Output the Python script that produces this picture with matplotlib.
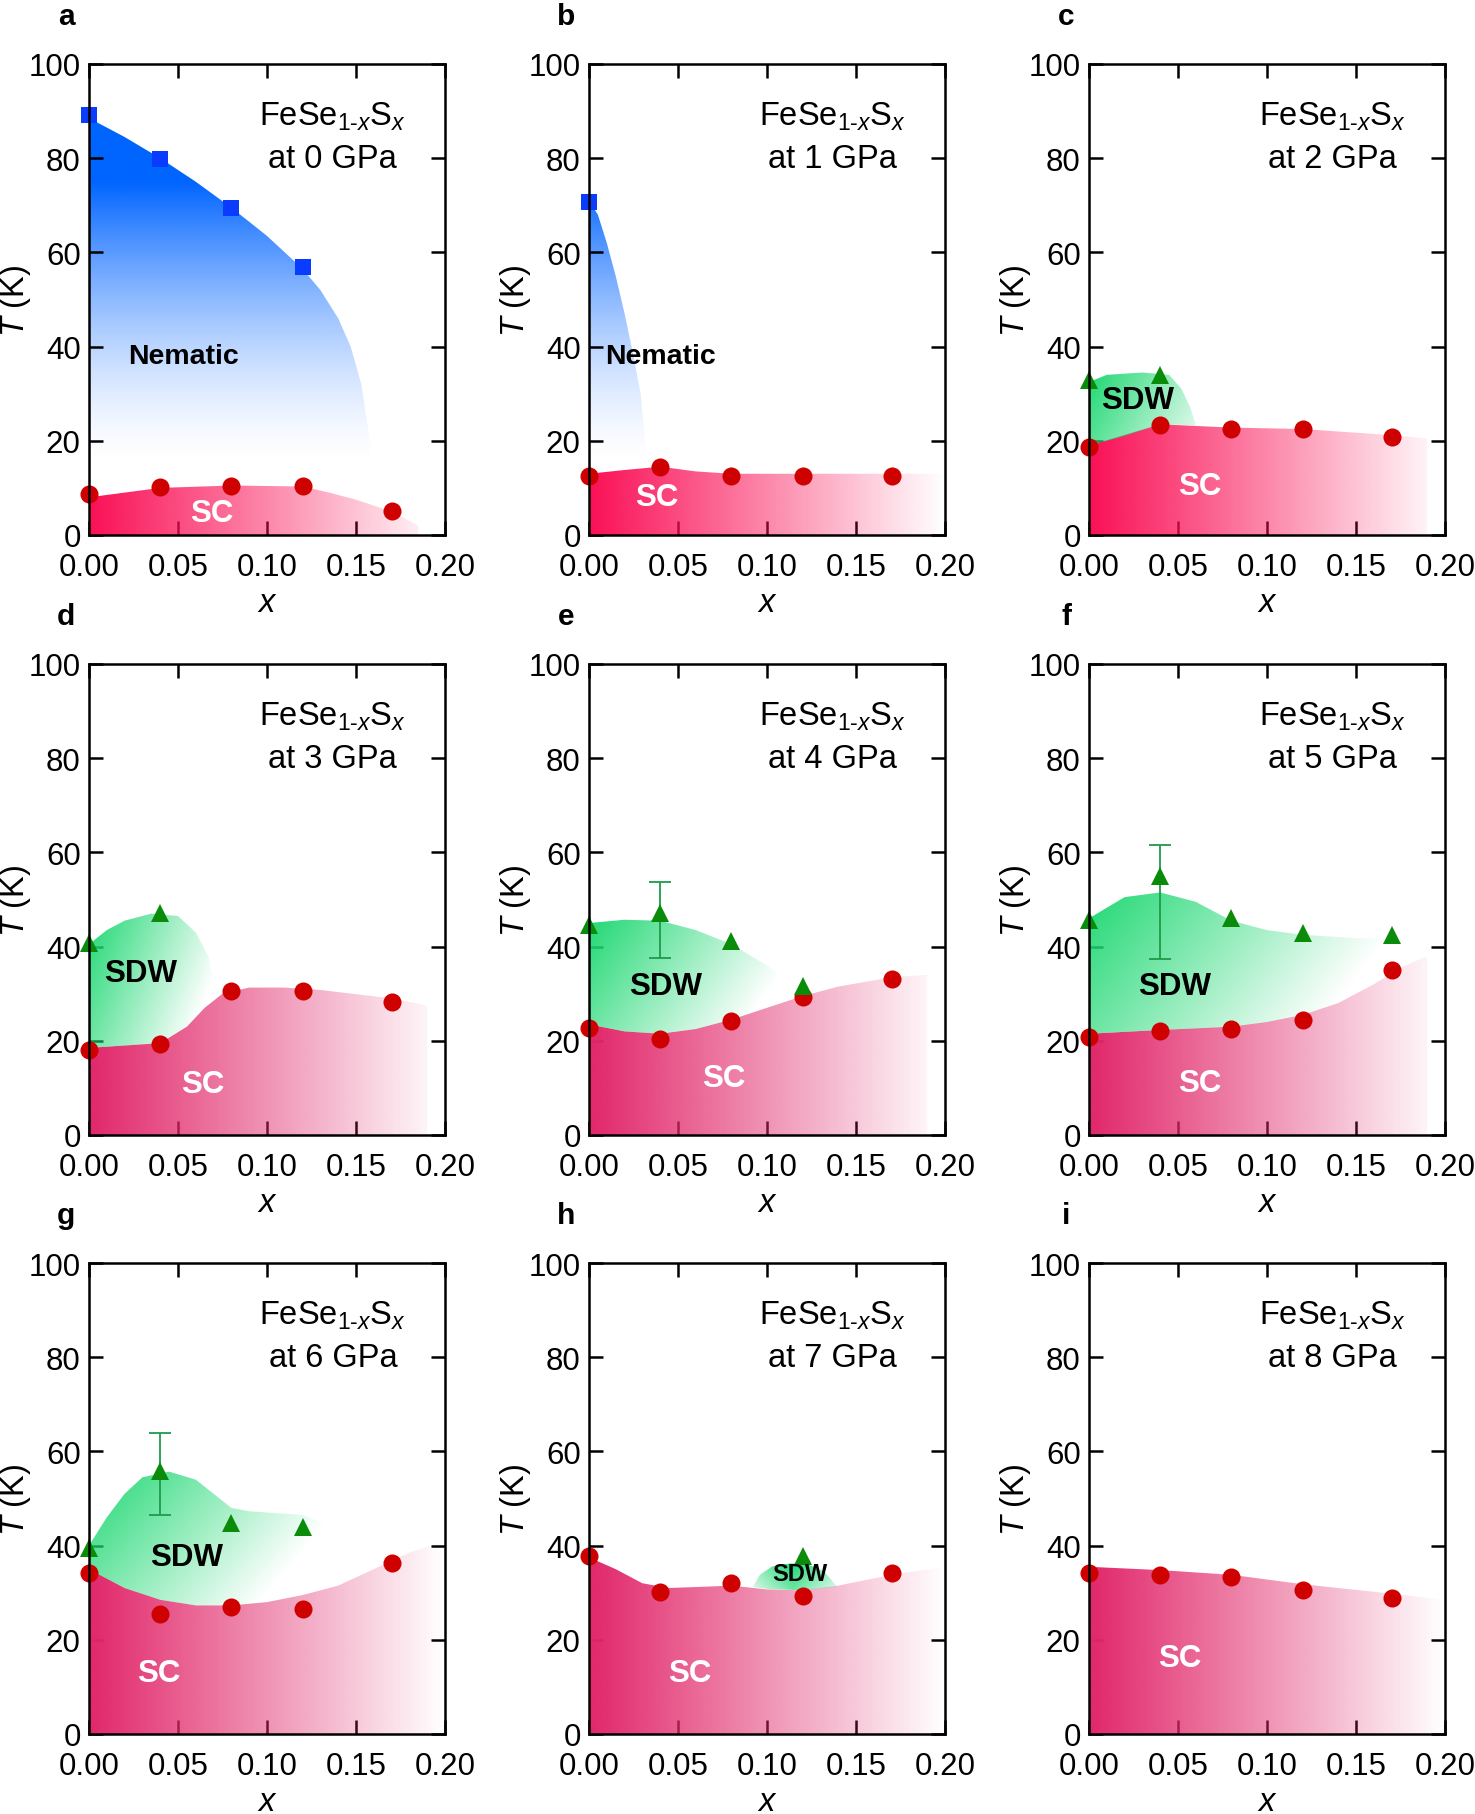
import numpy as np
import matplotlib
matplotlib.use('Agg')
import matplotlib.pyplot as plt
from matplotlib.patches import Polygon

plt.rcParams['font.family'] = ['Liberation Sans', 'DejaVu Sans']
plt.rcParams['mathtext.fontset'] = 'custom'
plt.rcParams['mathtext.rm'] = 'Liberation Sans'
plt.rcParams['mathtext.it'] = 'Liberation Sans:italic'
plt.rcParams['mathtext.bf'] = 'Liberation Sans:bold'

# ---------------- data ----------------
pressures = [0, 1, 2, 3, 4, 5, 6, 7, 8]
panel_letters = ['a', 'b', 'c', 'd', 'e', 'f', 'g', 'h', 'i']
x_samples = [0.00, 0.04, 0.08, 0.12, 0.17]

# superconducting Tc (red circles), one row per pressure
tc_sc = [
    [8.6, 10.1, 10.3, 10.3, 5.2],
    [12.5, 14.5, 12.5, 12.5, 12.5],
    [18.7, 23.3, 22.4, 22.4, 20.9],
    [18.1, 19.4, 30.6, 30.6, 28.2],
    [22.8, 20.3, 24.3, 29.4, 33.1],
    [20.8, 22.1, 22.5, 24.5, 35.0],
    [34.1, 25.5, 27.0, 26.5, 36.3],
    [37.7, 30.1, 32.1, 29.4, 34.1],
    [34.1, 33.8, 33.3, 30.6, 28.9],
]

# nematic transition (blue squares)
nem_x = {0: [0.00, 0.04, 0.08, 0.12], 1: [0.00]}
nem_t = {0: [89.2, 79.9, 69.5, 56.8], 1: [70.8]}

# SDW transition (green triangles)
sdw_x = {2: [0.00, 0.04], 3: [0.00, 0.04], 4: [0.00, 0.04, 0.08, 0.12],
         5: [0.00, 0.04, 0.08, 0.12, 0.17], 6: [0.00, 0.04, 0.08, 0.12], 7: [0.12]}
sdw_t = {2: [32.9, 33.9], 3: [40.7, 47.1], 4: [44.6, 47.1, 41.2, 31.6],
         5: [45.6, 54.9, 46.1, 42.9, 42.4], 6: [39.5, 55.9, 44.9, 43.9], 7: [37.7]}
# error bar on the x = 0.04 triangle: (low, high)
sdw_err = {4: (37.5, 53.7), 5: (37.3, 61.5), 6: (46.6, 64.0)}

# boundary of the shaded SC dome, per pressure
sc_edge_x = [
    [0.00, 0.04, 0.08, 0.12, 0.135, 0.15, 0.17, 0.185],
    [0.00, 0.02, 0.04, 0.06, 0.08, 0.12, 0.17, 0.20],
    [0.00, 0.04, 0.08, 0.12, 0.17, 0.19],
    [0.00, 0.04, 0.055, 0.065, 0.075, 0.09, 0.11, 0.13, 0.17, 0.19],
    [0.00, 0.02, 0.04, 0.06, 0.08, 0.10, 0.12, 0.14, 0.17, 0.19],
    [0.00, 0.04, 0.08, 0.10, 0.12, 0.14, 0.16, 0.175, 0.19],
    [0.00, 0.02, 0.04, 0.06, 0.08, 0.10, 0.12, 0.14, 0.16, 0.18, 0.20],
    [0.00, 0.015, 0.03, 0.045, 0.06, 0.08, 0.10, 0.12, 0.14, 0.17, 0.20],
    [0.00, 0.04, 0.08, 0.12, 0.17, 0.20],
]
sc_edge_t = [
    [8.0, 10.0, 10.5, 10.3, 9.0, 7.5, 5.0, 2.0],
    [13.0, 13.8, 14.5, 13.5, 13.0, 13.0, 13.0, 13.0],
    [19.0, 23.5, 22.8, 22.5, 21.2, 20.5],
    [18.5, 19.5, 23.0, 27.0, 30.0, 31.3, 31.3, 30.8, 29.0, 27.5],
    [23.5, 22.0, 21.5, 22.5, 24.5, 27.0, 29.5, 31.5, 33.5, 34.0],
    [21.5, 22.3, 23.0, 24.0, 25.5, 28.0, 32.0, 35.5, 38.0],
    [35.0, 31.0, 28.5, 27.3, 27.3, 28.0, 29.5, 31.5, 35.0, 38.5, 41.0],
    [37.5, 35.0, 32.0, 31.0, 31.2, 31.5, 30.7, 30.5, 31.5, 33.8, 35.5],
    [35.5, 34.8, 33.8, 31.8, 29.8, 28.5],
]

# upper boundary of the nematic region
nem_edge_x = {0: [0.00, 0.02, 0.04, 0.06, 0.08, 0.10, 0.12, 0.13, 0.14, 0.147, 0.153, 0.157, 0.16],
              1: [0.00, 0.005, 0.01, 0.015, 0.02, 0.025, 0.029, 0.031, 0.032]}
nem_edge_t = {0: [88.5, 84.5, 80.0, 75.0, 69.5, 63.5, 56.5, 52.0, 46.0, 40.0, 32.0, 22.0, 12.0],
              1: [71.0, 68.0, 62.0, 55.0, 47.0, 38.0, 30.0, 22.0, 14.0]}

# SDW dome outline: upper edge (left to right) and lower edge (left to right)
sdw_top_x = {2: [0.00, 0.01, 0.03, 0.045, 0.052, 0.057, 0.06],
             3: [0.00, 0.01, 0.02, 0.035, 0.05, 0.06, 0.067, 0.07, 0.072],
             4: [0.00, 0.02, 0.04, 0.06, 0.08, 0.10, 0.11, 0.117],
             5: [0.00, 0.02, 0.04, 0.06, 0.08, 0.10, 0.12, 0.15, 0.18, 0.19],
             6: [0.00, 0.01, 0.02, 0.03, 0.045, 0.06, 0.07, 0.08, 0.09, 0.12, 0.13, 0.14, 0.147],
             7: [0.092, 0.096, 0.103, 0.113, 0.123, 0.132, 0.139]}
sdw_top_t = {2: [32.5, 34.0, 34.5, 34.0, 31.0, 27.0, 23.3],
             3: [40.5, 43.5, 45.5, 47.0, 46.5, 43.0, 38.0, 33.0, 30.0],
             4: [45.0, 45.7, 45.5, 43.5, 40.5, 36.0, 33.0, 30.5],
             5: [46.0, 50.5, 51.5, 49.5, 45.5, 43.5, 42.5, 41.8, 41.5, 39.0],
             6: [40.0, 46.0, 51.0, 54.5, 55.7, 54.0, 51.0, 48.0, 47.3, 46.5, 45.0, 42.0, 38.0],
             7: [31.2, 33.8, 35.6, 36.2, 36.0, 34.5, 31.5]}
sdw_bot_x = {2: [0.00, 0.02, 0.04, 0.06],
             3: [0.00, 0.04, 0.055, 0.065, 0.072],
             4: [0.00, 0.02, 0.04, 0.06, 0.08, 0.10, 0.117],
             5: [0.00, 0.04, 0.08, 0.10, 0.12, 0.14, 0.16, 0.175, 0.19],
             6: [0.00, 0.02, 0.04, 0.06, 0.08, 0.10, 0.12, 0.147],
             7: [0.092, 0.10, 0.12, 0.139]}
sdw_bot_t = {2: [19.0, 21.0, 23.5, 23.3],
             3: [18.5, 19.5, 23.0, 27.0, 30.0],
             4: [23.5, 22.0, 21.5, 22.5, 24.5, 27.0, 30.0],
             5: [21.5, 22.3, 23.0, 24.0, 25.5, 28.0, 32.0, 35.5, 38.0],
             6: [35.0, 31.0, 28.5, 27.3, 27.3, 28.0, 29.5, 33.0],
             7: [31.2, 30.8, 30.5, 31.3]}

# ---------------- styling / layout ----------------
C_SQ = '#0a3cff'
C_CIR = '#cf0000'
C_TRI = '#0a8c0a'
C_ERR = '#1f9a4a'
BLUE = np.array([0, 100, 255]) / 255
GREEN = np.array([31, 216, 115]) / 255
SC_BRIGHT = np.array([250, 15, 85]) / 255
SC_DEEP = np.array([225, 38, 105]) / 255

# SDW gradient: (x centre, width, T top, depth)
sdw_grad = {2: (0.0, 0.09, 34, 60), 3: (0.0, 0.085, 47, 80), 4: (0.0, 0.13, 46, 70),
            5: (0.0, 0.19, 52, 90), 6: (0.0, 0.16, 56, 70), 7: (0.115, 0.045, 36, 16)}
sc_label_pos = [(0.069, 4.7), (0.038, 8.1), (0.062, 10.3), (0.064, 10.8), (0.076, 12.0),
                (0.0625, 11.0), (0.039, 13.0), (0.0567, 13.0), (0.051, 16.2)]
sdw_label_pos = {2: (0.0274, 28.7), 3: (0.029, 34.3), 4: (0.043, 31.6), 5: (0.048, 31.6),
                 6: (0.055, 37.5), 7: (0.1182, 34.0)}
nem_label_pos = {0: (0.053, 38.0), 1: (0.0404, 38.0)}

W, H = 1475, 1815
fig = plt.figure(figsize=(W / 100, H / 100), dpi=100)
col_left = [89, 589, 1089]
row_top = [65, 665, 1264]
aw, ah = 356, 471

gx = np.linspace(0, 0.2, 300)
gt = np.linspace(0, 100, 500)
GX, GT = np.meshgrid(gx, gt)


def gradient(ax, rgb, alpha, verts, z):
    img = np.zeros(GX.shape + (4,))
    img[..., :3] = rgb
    img[..., 3] = alpha
    poly = Polygon(verts, closed=True, facecolor='none', edgecolor='none')
    ax.add_patch(poly)
    im = ax.imshow(img, extent=(0, 0.2, 0, 100), origin='lower', aspect='auto',
                   interpolation='bilinear', zorder=z)
    im.set_clip_path(poly)


for k, p in enumerate(pressures):
    r, c = divmod(k, 3)
    ax = fig.add_axes([col_left[c] / W, 1 - (row_top[r] + ah) / H, aw / W, ah / H])

    # nematic region
    if p in nem_edge_x:
        v = [(0, 0)] + list(zip(nem_edge_x[p], nem_edge_t[p])) + [(nem_edge_x[p][-1], 0)]
        a = np.clip((GT - 15) / 60, 0, 1) ** 1.5
        gradient(ax, BLUE, a, v, 1)

    # SC region
    v = [(0, 0)] + list(zip(sc_edge_x[k], sc_edge_t[k])) + [(sc_edge_x[k][-1], 0)]
    a = np.clip(1 - GX / 0.2, 0, 1)
    gradient(ax, SC_BRIGHT if p < 3 else SC_DEEP, a, v, 2)

    # SDW region
    if p in sdw_top_x:
        v = list(zip(sdw_top_x[p], sdw_top_t[p])) + list(zip(sdw_bot_x[p], sdw_bot_t[p]))[::-1]
        xc, wd, tt, dp = sdw_grad[p]
        a = np.clip(1 - np.abs(GX - xc) / wd - (tt - GT) / dp, 0, 1)
        gradient(ax, GREEN, a, v, 3)

    # markers
    ax.plot(x_samples, tc_sc[k], 'o', color=C_CIR, ms=13, mew=0, zorder=6, clip_on=False)
    if p in nem_x:
        ax.plot(nem_x[p], nem_t[p], 's', color=C_SQ, ms=12, mew=0, zorder=6, clip_on=False)
    if p in sdw_x:
        if p in sdw_err:
            lo, hi = sdw_err[p]
            t0 = sdw_t[p][1]
            ax.errorbar([sdw_x[p][1]], [t0], yerr=[[t0 - lo], [hi - t0]], fmt='none',
                        ecolor=C_ERR, elinewidth=1.3, capsize=8, capthick=1.3, zorder=5)
        ax.plot(sdw_x[p], sdw_t[p], '^', color=C_TRI, ms=13.5, mew=0, zorder=6, clip_on=False)

    # labels inside
    sx, st = sc_label_pos[k]
    ax.text(sx, st, 'SC', color='white', fontsize=22.5, fontweight='bold',
            ha='center', va='center', zorder=7)
    if p in sdw_label_pos:
        sx, st = sdw_label_pos[p]
        ax.text(sx, st, 'SDW', color='black', fontsize=17 if p == 7 else 22.5,
                fontweight='bold', ha='center', va='center', zorder=7)
    if p in nem_label_pos:
        sx, st = nem_label_pos[p]
        ax.text(sx, st, 'Nematic', color='black', fontsize=20.5, fontweight='bold',
                ha='center', va='center', zorder=7)
    ax.text(0.685, 0.89, r'FeSe$_{1\text{-}x}$S$_{x}$', transform=ax.transAxes,
            fontsize=23.5, ha='center', va='center', zorder=7)
    ax.text(0.685, 0.80, 'at %d GPa' % p, transform=ax.transAxes,
            fontsize=23.5, ha='center', va='center', zorder=7)

    ax.set_xlim(0, 0.2)
    ax.set_ylim(0, 100)
    ax.set_xticks([0, 0.05, 0.10, 0.15, 0.20])
    ax.set_xticklabels(['0.00', '0.05', '0.10', '0.15', '0.20'])
    ax.set_yticks([0, 20, 40, 60, 80, 100])
    ax.tick_params(direction='in', top=True, right=True, length=10, width=1.8,
                   labelsize=22.5)
    ax.tick_params(axis='x', pad=12.5)
    ax.tick_params(axis='y', pad=6)
    for s in ax.spines.values():
        s.set_linewidth(1.8)
        s.set_zorder(8)
    ax.set_xlabel('$x$', fontsize=23.5, labelpad=3.5)
    ax.set_ylabel('$T$ (K)', fontsize=23.5, labelpad=-3)

    fig.text((col_left[c] - 23) / W, 1 - (row_top[r] - 48) / H, panel_letters[k],
             fontsize=21.5, fontweight='bold', ha='center', va='center')

fig.savefig('out.png', dpi=100)
